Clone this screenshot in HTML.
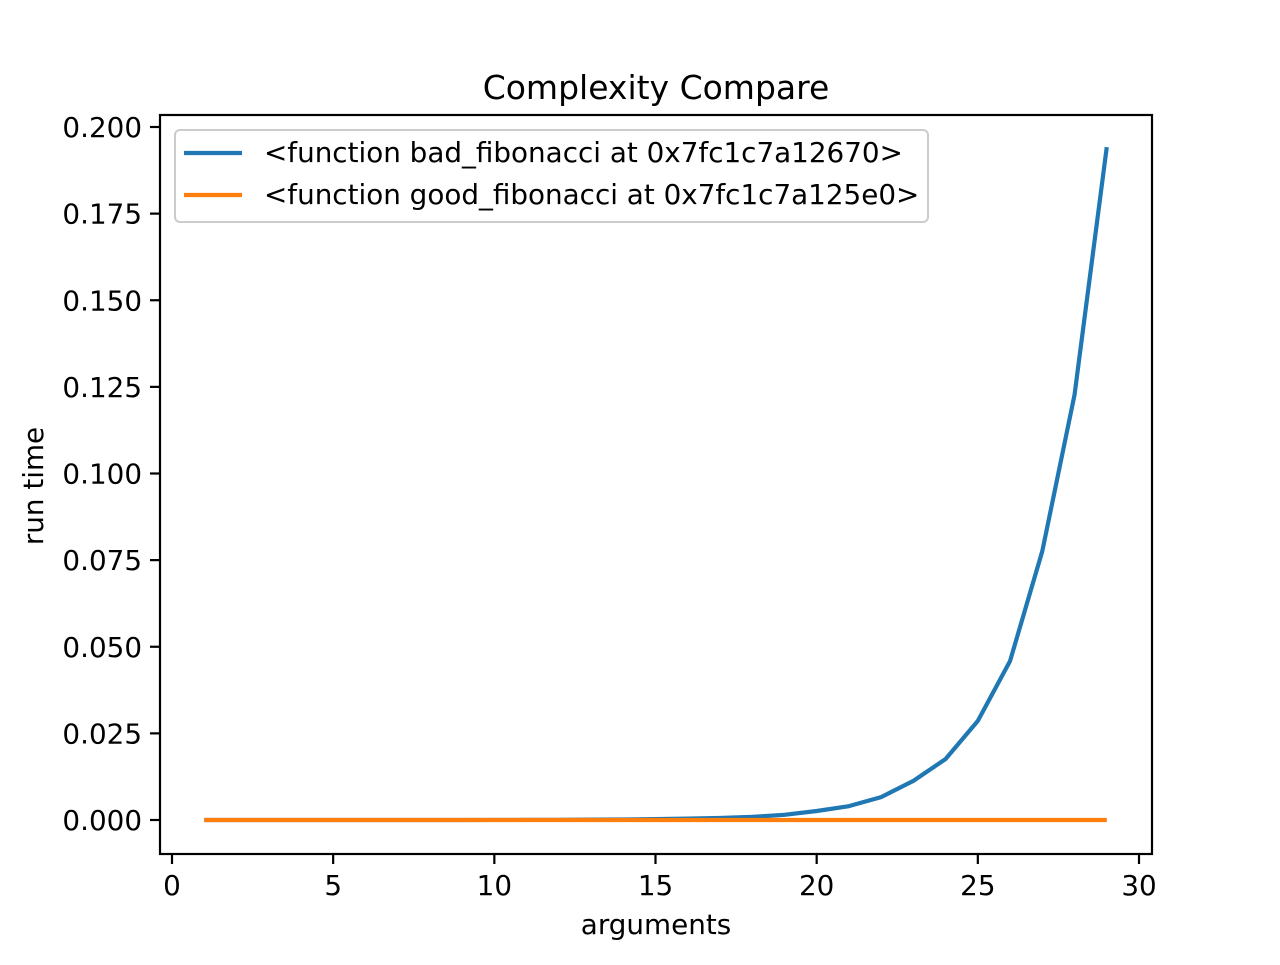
<!DOCTYPE html>
<html><head><meta charset="utf-8"><style>
body{margin:0;background:#fff}
svg text{font-family:"DejaVu Sans","Liberation Sans",sans-serif;fill:#000}
</style></head><body>
<svg id="chart" width="1280" height="960" xmlns="http://www.w3.org/2000/svg">
<rect width="1280" height="960" fill="#fff"/>
<text x="656" y="99" font-size="33" text-anchor="middle">Complexity Compare</text>
<g id="plot"></g>
<text x="656" y="934" font-size="27.8" text-anchor="middle">arguments</text>
<text transform="translate(43,486) rotate(-90)" font-size="27.8" text-anchor="middle">run time</text>
<g>
<rect x="175" y="130" width="753" height="92" rx="5" fill="#fff" fill-opacity="0.8" stroke="#ccc" stroke-width="2"/>
<line x1="184" y1="153" x2="242" y2="153" stroke="#1f77b4" stroke-width="4.2"/>
<text x="264" y="162" font-size="27.8">&lt;function bad_fibonacci at 0x7fc1c7a12670&gt;</text>
<line x1="184" y1="195" x2="242" y2="195" stroke="#ff7f0e" stroke-width="4.2"/>
<text x="264" y="204" font-size="27.8">&lt;function good_fibonacci at 0x7fc1c7a125e0&gt;</text>
</g>
<rect x="160" y="115" width="992" height="739" fill="none" stroke="#000" stroke-width="2.2"/>
</svg>
<script>
const args=[1,2,3,4,5,6,7,8,9,10,11,12,13,14,15,16,17,18,19,20,21,22,23,24,25,26,27,28,29];
const badTimes=[0,0,0,0,0,0,0,0.00001,0.00001,0.00002,0.00003,0.00006,0.0001,0.00015,0.00025,0.0004,0.0006,0.0009,0.0015,0.0026,0.004,0.0066,0.0113,0.0176,0.0286,0.0459,0.0776,0.1227,0.1942];
const goodTimes=[0,0,0,0,0,0,0,0,0,0,0,0,0,0,0,0,0,0,0,0,0,0,0,0,0,0,0,0,0];
const xTicks=[0,5,10,15,20,25,30];
const yTicks=[0,0.025,0.05,0.075,0.1,0.125,0.15,0.175,0.2];
const sx=v=>172+v*(1139-172)/30;
const sy=v=>820-v*(820-127)/0.2;
const NS="http://www.w3.org/2000/svg";
const g=document.getElementById('plot');
function mk(t,a){const e=document.createElementNS(NS,t);for(const k in a)e.setAttribute(k,a[k]);g.appendChild(e);return e;}
xTicks.forEach(v=>{
 const l=mk('line',{x1:sx(v),x2:sx(v),y1:854,y2:864,stroke:'#000','stroke-width':2.2});
 
 
 const t=mk('text',{x:sx(v),y:895,'font-size':27.8,'text-anchor':'middle'});t.textContent=v;
 
 
});
yTicks.forEach(v=>{
 const l=mk('line',{x1:150,x2:160,y1:sy(v),y2:sy(v),stroke:'#000','stroke-width':2.2});
 
 
 const t=mk('text',{x:142,y:sy(v)+10,'font-size':27.8,'text-anchor':'end'});t.textContent=v.toFixed(3);
 
 
});
function line(vals,color,name){
 const p=mk('polyline',{points:args.map((a,i)=>sx(a)+','+sy(vals[i])).join(' '),fill:'none',stroke:color,'stroke-width':4.2,'stroke-linejoin':'round'});
 
 
}
line(badTimes,'#1f77b4','bad-fibonacci-line');
line(goodTimes,'#ff7f0e','good-fibonacci-line');
</script>
</body></html>
